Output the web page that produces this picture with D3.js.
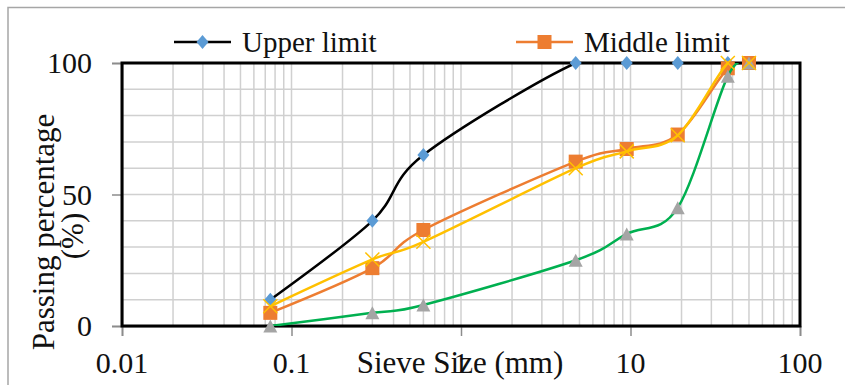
<!doctype html>
<html lang="en">

<head>
    <meta charset="utf-8">
    <title>Sieve analysis</title>
    <style>
        body {
            margin: 0;
            background: #fff;
        }
    </style>
</head>

<body>
    <div id="chart"></div>
    <script src="https://cdn.jsdelivr.net/npm/d3@7"></script>
    <script>
        // sieve sizes (mm) and passing percentages
        var sieves = [0.075, 0.3, 0.6, 4.75, 9.5, 19, 37.5, 50];
        var upperLimit = [10, 40, 65, 100, 100, 100, 100, 100];
        var middleLimit = [5, 22, 36.5, 62.5, 67.3, 72.8, 98, 100];
        var lowerLimit = [0, 5, 8, 25, 35, 45, 95, 100];
        var mixCurve = [7.5, 25.3, 32, 60, 66.4, 72.5, 100, 100];

        var xTicks = [0.01, 0.1, 1, 10, 100];
        var xTickLabels = ["0.01", "0.1", "1", "10", "100"];
        var yTicks = [0, 50, 100];

        var width = 845;
        var height = 385;
        var FONT = "'Liberation Serif'";

        var svg = d3.select("#chart")
            .append("svg")
            .attr("width", width)
            .attr("height", height);

        // outer chart border (cut off at right / bottom)
        svg.append("rect")
            .attr("x", 8).attr("y", 7.5)
            .attr("width", 900).attr("height", 500)
            .attr("fill", "none")
            .attr("stroke", "#a6a6a6")
            .attr("stroke-width", 1.5);

        var x = d3.scaleLog().domain([0.01, 100]).range([122, 800]);
        var y = d3.scaleLinear().domain([0, 100]).range([326, 63]);

        svg.append("clipPath").attr("id", "plot-clip")
            .append("rect")
            .attr("x", x(0.01)).attr("y", y(100))
            .attr("width", x(100) - x(0.01)).attr("height", y(0) - y(100));

        // grid
        var grid = svg.append("g").attr("stroke", "#d0d0d0").attr("stroke-width", 1.5);
        var vLines = [];
        [0.01, 0.1, 1, 10].forEach(function (d) {
            for (var k = 1; k <= 9; k++) vLines.push(d * k);
        });
        vLines.push(100);
        grid.selectAll(".v").data(vLines).enter().append("line")
            .attr("x1", function (d) { return x(d); })
            .attr("x2", function (d) { return x(d); })
            .attr("y1", y(0)).attr("y2", y(100));
        grid.selectAll(".h").data(d3.range(0, 101, 10)).enter().append("line")
            .attr("y1", function (d) { return y(d); })
            .attr("y2", function (d) { return y(d); })
            .attr("x1", x(0.01)).attr("x2", x(100));

        // axes
        var xAxis = svg.append("g")
            .attr("transform", "translate(0," + y(0) + ")")
            .call(d3.axisBottom(x).tickValues(xTicks).tickSize(10).tickFormat(""));
        var yAxis = svg.append("g")
            .attr("transform", "translate(" + x(0.01) + ",0)")
            .call(d3.axisLeft(y).tickValues(yTicks).tickSize(10).tickFormat(""));
        [xAxis, yAxis].forEach(function (a) {
            a.select(".domain").attr("stroke", "#595959").attr("stroke-width", 1.5);
            a.selectAll(".tick line").attr("stroke", "#8c8c8c").attr("stroke-width", 1.5);
        });

        // plot area border
        svg.append("rect")
            .attr("x", x(0.01)).attr("y", y(100))
            .attr("width", x(100) - x(0.01)).attr("height", y(0) - y(100))
            .attr("fill", "none")
            .attr("stroke", "#000")
            .attr("stroke-width", 3);

        // tick labels
        svg.selectAll(".xl").data(xTicks).enter().append("text")
            .attr("x", function (d) { return x(d); })
            .attr("y", 373)
            .attr("text-anchor", "middle")
            .attr("font-family", FONT)
            .attr("font-size", 30)
            .attr("fill", "#111")
            .text(function (d, i) { return xTickLabels[i]; });
        svg.selectAll(".yl").data(yTicks).enter().append("text")
            .attr("x", 92)
            .attr("y", function (d) { return y(d) + 10; })
            .attr("text-anchor", "end")
            .attr("font-family", FONT)
            .attr("font-size", 30)
            .attr("fill", "#111")
            .text(function (d) { return d; });

        // axis titles
        svg.append("text")
            .attr("x", 460).attr("y", 373)
            .attr("text-anchor", "middle")
            .attr("font-family", FONT)
            .attr("font-size", 31)
            .attr("fill", "#111")
            .text("Sieve Size (mm)");
        var yt = svg.append("text")
            .attr("transform", "translate(54,232) rotate(-90)")
            .attr("text-anchor", "middle")
            .attr("font-family", FONT)
            .attr("font-size", 31)
            .attr("fill", "#111");
        yt.append("tspan").attr("x", 0).attr("y", 0).text("Passing percentage");
        yt.append("tspan").attr("x", -4).attr("y", 29).text("(%)");

        // markers
        function diamond(g) {
            g.append("path").attr("d", "M0,-7L6,0L0,7L-6,0Z").attr("fill", "#5b9bd5");
        }
        function square(g) {
            g.append("rect").attr("x", -7).attr("y", -7).attr("width", 14).attr("height", 14)
                .attr("fill", "#ed7d31");
        }
        function triangle(g) {
            g.append("path").attr("d", "M0,-6.5L7,6.5L-7,6.5Z").attr("fill", "#a5a5a5");
        }
        function cross(g) {
            g.append("path").attr("d", "M-7,-7L7,7M-7,7L7,-7")
                .attr("stroke", "#ffc000").attr("stroke-width", 1.5).attr("fill", "none");
        }

        var series = [
            { name: "Upper limit", values: upperLimit, color: "#000000", marker: diamond },
            { name: "Middle limit", values: middleLimit, color: "#ed7d31", marker: square },
            { name: "Lower limit", values: lowerLimit, color: "#00b050", marker: triangle },
            { name: "Mix", values: mixCurve, color: "#ffc000", marker: cross }
        ];

        var line = d3.line()
            .x(function (d) { return x(d[0]); })
            .y(function (d) { return y(d[1]); })
            .curve(d3.curveCatmullRom.alpha(0));

        series.forEach(function (s) {
            var pts = sieves.map(function (v, i) { return [v, s.values[i]]; });
            svg.append("path")
                .datum(pts)
                .attr("d", line)
                .attr("clip-path", "url(#plot-clip)")
                .attr("fill", "none")
                .attr("stroke", s.color)
                .attr("stroke-width", 2.5);
            svg.selectAll(null).data(pts).enter().append("g")
                .attr("transform", function (d) { return "translate(" + x(d[0]) + "," + y(d[1]) + ")"; })
                .each(function () { s.marker(d3.select(this)); });
        });

        // legend (only two entries fit)
        var legendItems = [
            { s: series[0], x: 174 },
            { s: series[1], x: 516 }
        ];
        legendItems.forEach(function (l) {
            var g = svg.append("g").attr("transform", "translate(" + l.x + ",42)");
            g.append("line").attr("x1", 0).attr("x2", 57).attr("y1", 0).attr("y2", 0)
                .attr("stroke", l.s.color).attr("stroke-width", 2.5);
            var m = g.append("g").attr("transform", "translate(28.5,0)");
            l.s.marker(m);
            g.append("text").attr("x", 68).attr("y", 10)
                .attr("font-family", FONT)
                .attr("font-size", 29)
                .attr("fill", "#111")
                .text(l.s.name);
        });
    </script>
</body>

</html>
